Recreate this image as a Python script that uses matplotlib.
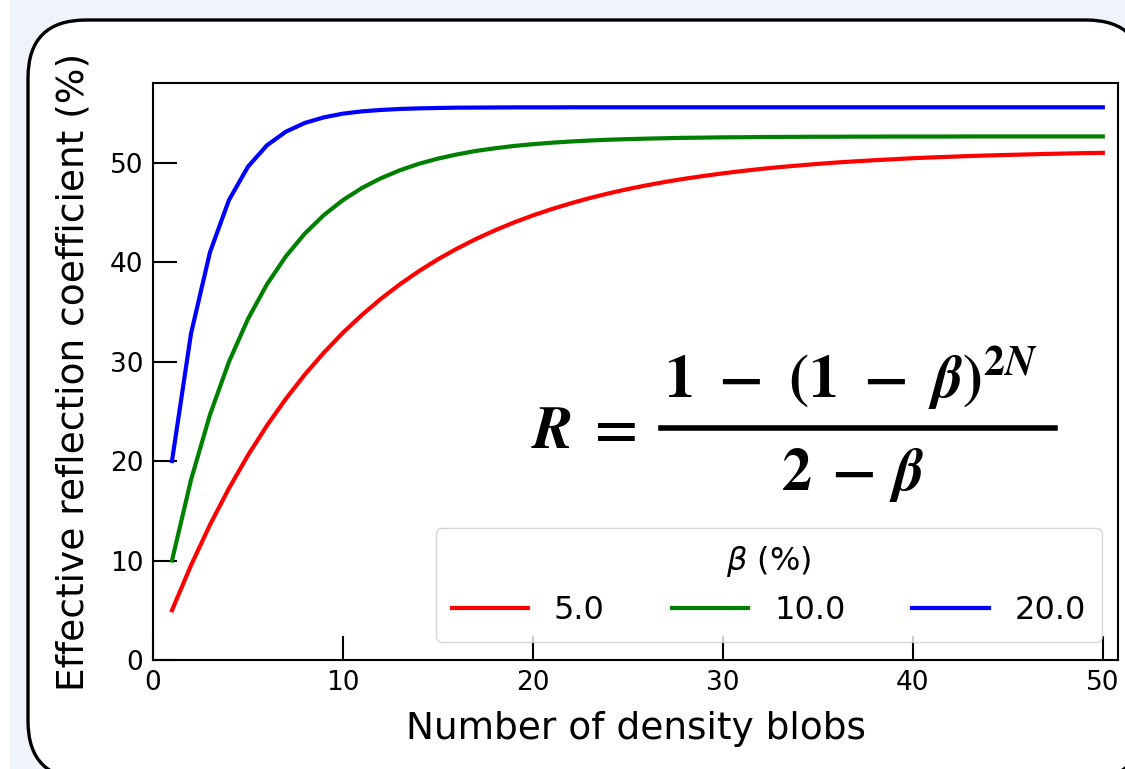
"""
有效反射系数随密度团块数量变化的曲线图
R = (1 - (1 - beta)^(2N)) / (2 - beta)
"""

import matplotlib
matplotlib.use('Agg')
import matplotlib.pyplot as plt
from matplotlib.patches import FancyBboxPatch, Rectangle
from matplotlib.lines import Line2D
from matplotlib.transforms import IdentityTransform

# 团块数量 N = 1..50
n_blobs = list(range(1, 51))

# 三条曲线 (单位 %)
r_beta_5 = [5.00, 9.51, 13.59, 17.26, 20.58, 23.57, 26.27, 28.71, 30.91, 32.90,
            34.69, 36.31, 37.77, 39.09, 40.28, 41.35, 42.32, 43.19, 43.98, 44.69,
            45.33, 45.91, 46.44, 46.91, 47.34, 47.72, 48.07, 48.38, 48.66, 48.92,
            49.15, 49.36, 49.55, 49.71, 49.87, 50.01, 50.13, 50.24, 50.34, 50.44,
            50.52, 50.59, 50.66, 50.72, 50.77, 50.82, 50.87, 50.91, 50.95, 50.98]
r_beta_10 = [10.00, 18.10, 24.66, 29.98, 34.28, 37.77, 40.59, 42.88, 44.73, 46.23,
             47.45, 48.43, 49.23, 49.88, 50.40, 50.82, 51.17, 51.44, 51.67, 51.85,
             52.00, 52.12, 52.22, 52.30, 52.36, 52.41, 52.45, 52.49, 52.51, 52.54,
             52.55, 52.57, 52.58, 52.59, 52.60, 52.60, 52.61, 52.61, 52.62, 52.62,
             52.62, 52.62, 52.63, 52.63, 52.63, 52.63, 52.63, 52.63, 52.63, 52.63]
r_beta_20 = [20.00, 32.80, 40.99, 46.24, 49.59, 51.74, 53.11, 53.99, 54.55, 54.92,
             55.15, 55.29, 55.39, 55.45, 55.49, 55.52, 55.53, 55.54, 55.55, 55.55,
             55.55, 55.56, 55.56, 55.56, 55.56, 55.56, 55.56, 55.56, 55.56, 55.56,
             55.56, 55.56, 55.56, 55.56, 55.56, 55.56, 55.56, 55.56, 55.56, 55.56,
             55.56, 55.56, 55.56, 55.56, 55.56, 55.56, 55.56, 55.56, 55.56, 55.56]

beta_labels = ['5.0', '10.0', '20.0']
colors = ['red', 'green', 'blue']

W, H = 1125, 769

fig = plt.figure(figsize=(W / 100, H / 100), dpi=100)
fig.patch.set_facecolor('#eef4f9')

# 左侧白色窄条
fig.patches.append(Rectangle((0, 0), 10 / W, 1, transform=fig.transFigure,
                             facecolor='white', edgecolor='none', zorder=0))

# 圆角白色背景框 (像素坐标)
box = FancyBboxPatch((28, -10), 1144 - 28, 759,
                     boxstyle='round,pad=0,rounding_size=58',
                     transform=IdentityTransform(), facecolor='white',
                     edgecolor='black', linewidth=2.4, zorder=1)
fig.patches.append(box)

ax = fig.add_axes([153 / W, 1 - 660 / H, (1118 - 153) / W, (660 - 83) / H])
ax.set_zorder(2)

for vals, lab, c in zip([r_beta_5, r_beta_10, r_beta_20], beta_labels, colors):
    ax.plot(n_blobs, vals, color=c, lw=3, label=lab)

ax.set_xlim(0, 50.8)
ax.set_ylim(0, 58)
ax.set_xticks([0, 10, 20, 30, 40, 50])
ax.set_yticks([0, 10, 20, 30, 40, 50])
ax.tick_params(direction='in', length=17, width=1.5, labelsize=19, pad=7)
for s in ax.spines.values():
    s.set_linewidth(1.5)

ax.set_xlabel('Number of density blobs', fontsize=27, labelpad=11)
ax.set_ylabel('Effective reflection coefficient (%)', fontsize=27, labelpad=13)

leg = ax.legend(title=r'$\it{\beta}$ (%)', ncol=3, fontsize=23, title_fontsize=23,
                loc='lower right', bbox_to_anchor=(1.0, 0.004),
                handlelength=2.4, handletextpad=0.8, columnspacing=2.1,
                borderpad=0.5)
leg.get_frame().set_edgecolor('#cccccc')

# 公式: 分别放置 R =、分子、分母和分数线 (像素坐标, 自上而下)
fs = 43
eq_kw = dict(transform=IdentityTransform(), fontsize=fs, math_fontfamily='stix',
             ha='left', va='baseline', zorder=5)
gap = r'\hspace{0.3}'
fig.text(531, H - 448, r'$\boldsymbol{R}\;\boldsymbol{=}$', **eq_kw)
fig.text(664, H - 398,
         r'$\boldsymbol{1}\;' + gap + r'\boldsymbol{-}\;' + gap + r'\boldsymbol{(1}\;'
         + gap + r'\boldsymbol{-}\;' + gap
         + r'\boldsymbol{\beta)}^{\boldsymbol{2N}}$', **eq_kw)
fig.text(781, H - 490, r'$\boldsymbol{2\;-\;\beta}$', **eq_kw)
fig.lines.append(Line2D([661, 1055], [H - 428, H - 428], color='black', lw=4,
                        transform=IdentityTransform(), zorder=5))

fig.savefig('out.png', dpi=100, facecolor=fig.get_facecolor())
